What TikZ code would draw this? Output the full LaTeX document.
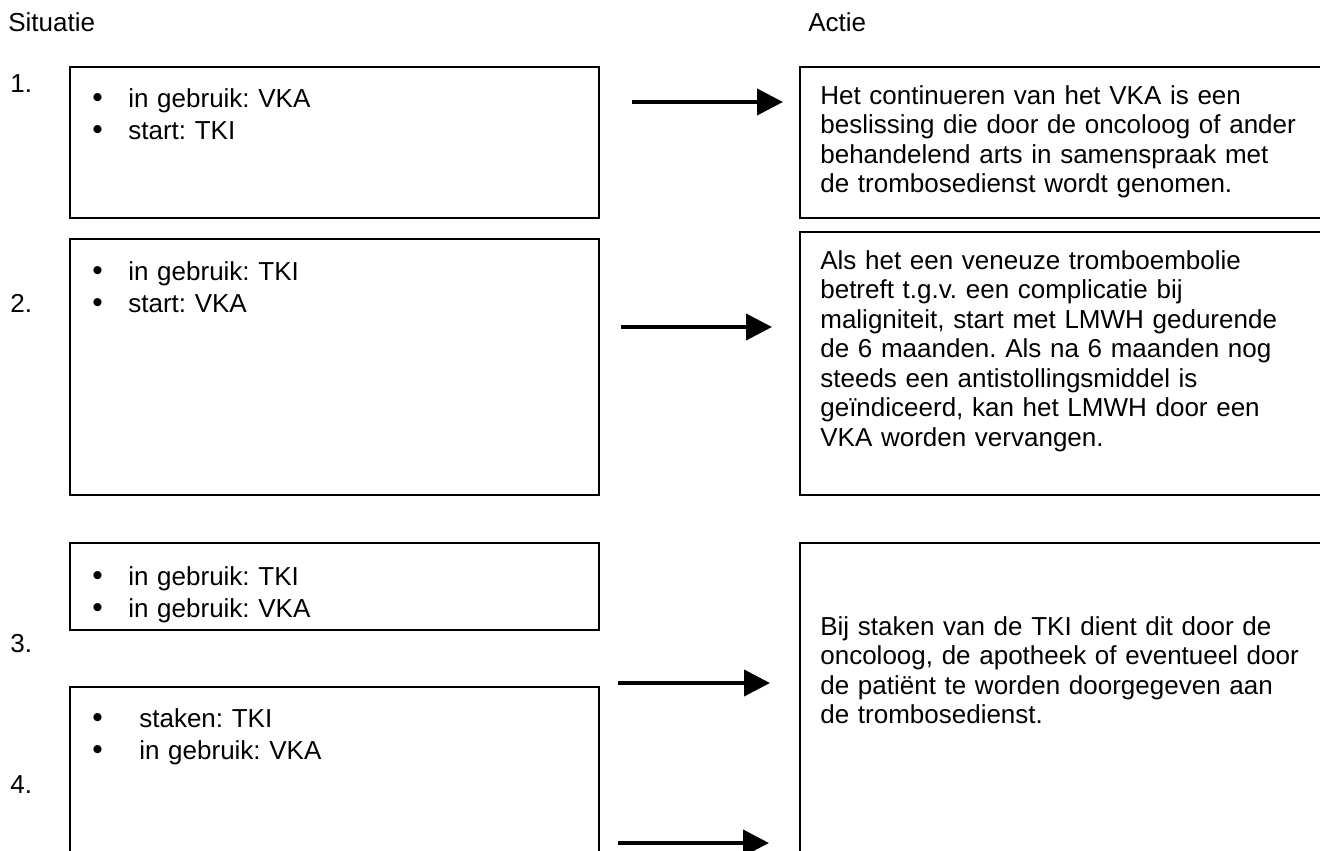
\documentclass[tikz,border=0pt]{standalone}
\usepackage{fontspec}
\setmainfont{Liberation Sans}
\usetikzlibrary{arrows.meta,positioning}
\frenchspacing

\newcommand\bul{\makebox[0.72cm][l]{{\fontsize{17}{17}\selectfont\textbullet}}}

\tikzset{
  box/.style={draw, line width=1.1pt, anchor=north west, inner sep=0pt, outer sep=0pt},
  bullets/.style={anchor=north west, inner sep=0pt, align=left, text width=9cm,
    font=\fontsize{14.8}{18.2}\selectfont},
  actie/.style={anchor=north west, inner sep=0pt, align=left, text width=10.5cm,
    font=\fontsize{14.8}{16.8}\selectfont},
  lbl/.style={anchor=base west, inner sep=0pt, font=\fontsize{14.8}{17}\selectfont},
  flow/.style={line width=2.3pt, -{Triangle[length=0.52cm, width=0.52cm]}}
}

\begin{document}
\begin{tikzpicture}[x=0.02cm, y=-0.02cm]
  \useasboundingbox (0,0) rectangle (1320,851);
  \clip (0,0) rectangle (1320,851);

  \node[lbl] (sit) at (8,32) {Situatie};
  \node[lbl] (act) at (808,32) {Actie};
  \foreach \n/\y in {1/93, 2/313, 3/652, 4/793}
    \node[lbl] (nr\n) at (10,\y) {\n.};

  \node[box, minimum width=10.58cm, minimum height=3.02cm] (s1) at (70,67) {};
  \node[box, minimum width=10.58cm, minimum height=5.12cm] (s2) at (70,239) {};
  \node[box, minimum width=10.58cm, minimum height=1.74cm] (s3) at (70,543) {};
  \node[box, minimum width=10.58cm, minimum height=4.40cm] (s4) at (70,687) {};

  \node[box, minimum width=10.8cm, minimum height=3.02cm] (r1) at (800,67) {};
  \node[box, minimum width=10.8cm, minimum height=5.26cm] (r2) at (800,232) {};
  \node[box, minimum width=10.8cm, minimum height=7.40cm] (r3) at (800,543) {};

  \node[bullets] (t1) at (92,88) {\bul in gebruik: VKA\\\bul start: TKI};
  \node[bullets] (t2) at (92,261) {\bul in gebruik: TKI\\\bul start: VKA};
  \node[bullets] (t3) at (92,566) {\bul in gebruik: TKI\\\bul in gebruik: VKA};
  \node[bullets] (t4) at (92,708) {\makebox[0.94cm][l]{{\fontsize{17}{17}\selectfont\textbullet}}staken: TKI\\
    \makebox[0.94cm][l]{{\fontsize{17}{17}\selectfont\textbullet}}in gebruik: VKA};

  \node[actie] (u1) at (820,85) {Het continueren van het VKA is een\\
    beslissing die door de oncoloog of ander\\
    behandelend arts in samenspraak met\\
    de trombosedienst wordt genomen.};
  \node[actie] (u2) at (820,250) {Als het een veneuze tromboembolie\\
    betreft t.g.v. een complicatie bij\\
    maligniteit, start met LMWH gedurende\\
    de 6 maanden. Als na 6 maanden nog\\
    steeds een antistollingsmiddel is\\
    geïndiceerd, kan het LMWH door een\\
    VKA worden vervangen.};
  \node[actie] (u3) at (820,616) {Bij staken van de TKI dient dit door de\\
    oncoloog, de apotheek of eventueel door\\
    de patiënt te worden doorgegeven aan\\
    de trombosedienst.};

  \foreach \i/\xs/\xe/\y in {1/632/783/102, 2/621/772/327, 3/618/770/683, 4/618/769/843} {
    \coordinate (a\i s) at (\xs,\y);
    \coordinate (a\i e) at (\xe,\y);
    \draw[flow] (a\i s) -- (a\i e);
  }
\end{tikzpicture}
\end{document}
